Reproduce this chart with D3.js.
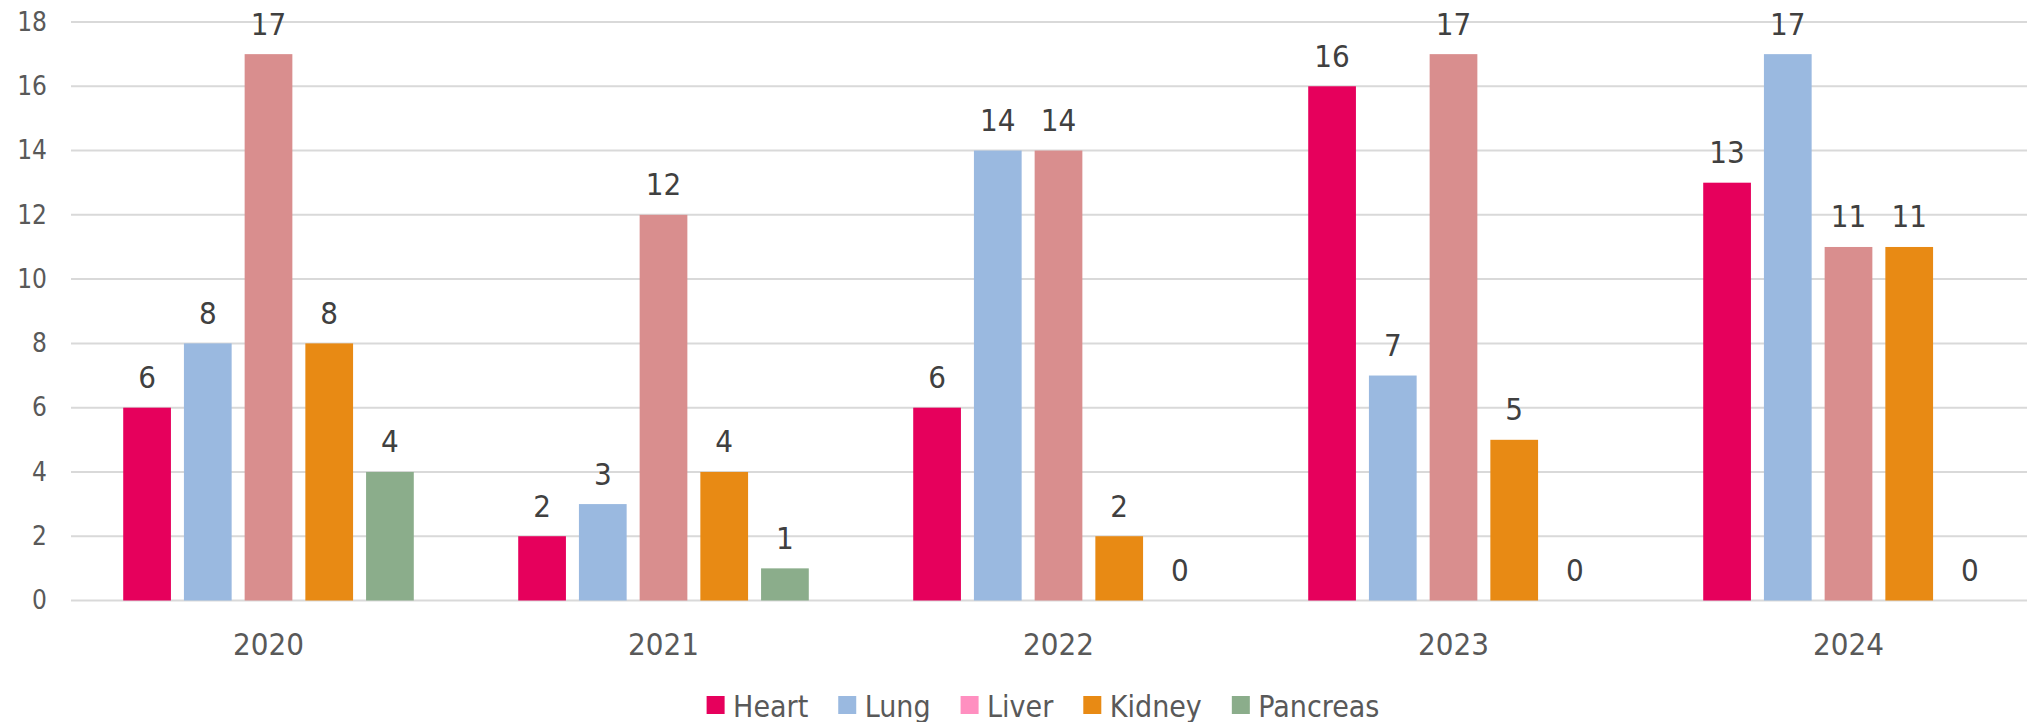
<!DOCTYPE html>
<html>
<head>
<meta charset="utf-8">
<script src="https://cdn.jsdelivr.net/npm/d3@7/dist/d3.min.js"></script>
<style>
  html, body { margin: 0; padding: 0; background: #ffffff; overflow: hidden; }
  svg { display: block; font-family: "DejaVu Sans Condensed", "DejaVu Sans", sans-serif; }
</style>
</head>
<body>
<svg id="chart" width="2027" height="722"></svg>
<script>
const years = ["2020", "2021", "2022", "2023", "2024"];
const organs = ["Heart", "Lung", "Liver", "Kidney", "Pancreas"];
const heart    = [6, 2, 6, 16, 13];
const lung     = [8, 3, 14, 7, 17];
const liver    = [17, 12, 14, 17, 11];
const kidney   = [8, 4, 2, 5, 11];
const pancreas = [4, 1, 0, 0, 0];
const yTicks = [0, 2, 4, 6, 8, 10, 12, 14, 16, 18];
const barColors    = ["#E6005C", "#9AB9E0", "#D98E8E", "#E88A14", "#8BAD8B"];
const legendColors = ["#E6005C", "#9AB9E0", "#FF8FC0", "#E88A14", "#8BAD8B"];

const seriesValues = [heart, lung, liver, kidney, pancreas];

const svg = d3.select("#chart");
const plotLeft = 71, plotRight = 2046, plotTop = 22, plotBottom = 600.5;

const x0 = d3.scaleBand().domain(years).range([plotLeft, plotRight]).padding(0);
const x1 = d3.scaleBand().domain(organs).range([0, x0.bandwidth()])
  .paddingInner(0.214).paddingOuter(0.86);
const y = d3.scaleLinear().domain([0, 18]).range([plotBottom, plotTop]);

// gridlines
svg.append("g").selectAll("line").data(yTicks).join("line")
  .attr("x1", plotLeft).attr("x2", plotRight)
  .attr("y1", d => y(d)).attr("y2", d => y(d))
  .attr("stroke", "#D9D9D9").attr("stroke-width", 2);

// y axis labels
const yAxis = d3.axisLeft(y).tickValues(yTicks).tickSize(0).tickPadding(0);
const yg = svg.append("g").attr("transform", `translate(47,0)`).call(yAxis);
yg.select(".domain").remove();
yg.selectAll("text").attr("font-size", 26).attr("fill", "#595959")
  .attr("font-family", "DejaVu Sans Condensed, DejaVu Sans, sans-serif");

// x axis labels
const xAxis = d3.axisBottom(x0).tickSize(0).tickPadding(0);
const xg = svg.append("g").attr("transform", `translate(0,${plotBottom})`).call(xAxis);
xg.select(".domain").remove();
xg.selectAll("text").attr("font-size", 31).attr("fill", "#595959")
  .attr("dy", null).attr("y", 54.5)
  .attr("font-family", "DejaVu Sans Condensed, DejaVu Sans, sans-serif");

// bars
const rows = [];
years.forEach((yr, i) => {
  organs.forEach((org, j) => {
    rows.push({ year: yr, organ: org, value: seriesValues[j][i], color: barColors[j] });
  });
});

svg.append("g").selectAll("rect").data(rows).join("rect")
  .attr("x", d => x0(d.year) + x1(d.organ))
  .attr("y", d => y(d.value))
  .attr("width", x1.bandwidth())
  .attr("height", d => plotBottom - y(d.value))
  .attr("fill", d => d.color);

// data labels
svg.append("g").selectAll("text").data(rows).join("text")
  .attr("x", d => x0(d.year) + x1(d.organ) + x1.bandwidth() / 2)
  .attr("y", d => y(d.value) - 19.5)
  .attr("text-anchor", "middle")
  .attr("font-size", 31)
  .attr("fill", "#404040")
  .text(d => d.value);

// legend
const lg = svg.append("g");
const items = lg.selectAll("g").data(organs).join("g");
items.append("rect").attr("width", 18).attr("height", 18).attr("y", 696)
  .attr("fill", (d, i) => legendColors[i]);
items.append("text").attr("x", 26.5).attr("y", 716.5)
  .attr("font-size", 30).attr("fill", "#595959").text(d => d);
let cx = 0;
items.each(function () {
  const g = d3.select(this);
  g.attr("transform", `translate(${cx},0)`);
  const w = g.select("text").node().getComputedTextLength();
  cx += 26.5 + w + 30;
});
const total = cx - 30;
const startX = 1043 - total / 2;
lg.attr("transform", `translate(${startX},0)`);
</script>
</body>
</html>
